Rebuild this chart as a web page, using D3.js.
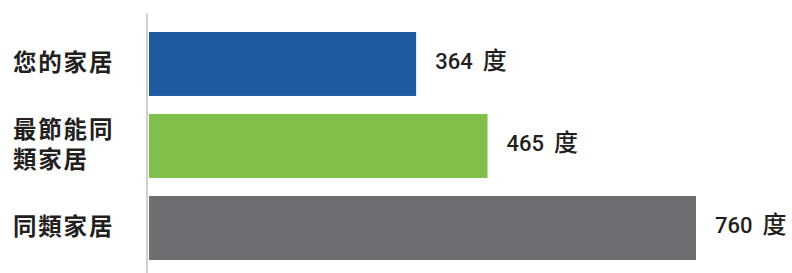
<!DOCTYPE html>
<html>
<head>
<meta charset="utf-8">
<script src="https://cdn.jsdelivr.net/npm/d3@7"></script>
<style>
  html, body { margin: 0; padding: 0; background: #fff; }
  svg { display: block; }
</style>
</head>
<body>
<svg id="chart" width="792" height="273"></svg>
<script>
const categories = [["您的家居"], ["最節能同", "類家居"], ["同類家居"]];
const values = [364, 465, 760];
const unit = "度";
const barColors = ["#1f5ba1", "#80c04a", "#6d6e71"];

const svg = d3.select("#chart");
const W = 792, H = 273;

const x = d3.scaleLinear().domain([-14, 760]).range([149, 696]);
const y = d3.scaleBand().domain(d3.range(values.length)).range([32, 260]).paddingInner(0.22).paddingOuter(0);

// axis line
svg.append("line")
  .attr("x1", 147).attr("x2", 147)
  .attr("y1", 13).attr("y2", H)
  .attr("stroke", "#d0d0d0").attr("stroke-width", 2);

// bars
svg.selectAll("rect.bar").data(values).enter().append("rect")
  .attr("class", "bar")
  .attr("x", x(-14))
  .attr("y", (d, i) => y(i))
  .attr("width", d => x(d) - x(-14))
  .attr("height", y.bandwidth())
  .attr("fill", (d, i) => barColors[i]);

// value labels
const vl = svg.selectAll("text.val").data(values).enter().append("text")
  .attr("class", "val")
  .attr("x", d => x(d) + 19)
  .attr("y", (d, i) => y(i) + y.bandwidth() / 2 + 5)
  .attr("font-family", "Roboto, 'Liberation Sans', Arial, sans-serif")
  .attr("font-size", 22)
  .attr("font-weight", 500)
  .attr("fill", "#231f20");
vl.append("tspan").text(d => d);
vl.append("tspan")
  .attr("dx", 10)
  .attr("font-family", "'Noto Sans CJK TC', sans-serif")
  .attr("font-size", 24)
  .attr("font-weight", 500)
  .text(unit);

// category labels
const lineH = 29.5;
categories.forEach((lines, i) => {
  const cy = y(i) + y.bandwidth() / 2;
  const n = lines.length;
  lines.forEach((ln, j) => {
    svg.append("text")
      .attr("font-family", "'Noto Sans CJK TC', 'Noto Sans CJK SC', sans-serif")
      .attr("font-size", 23.5)
      .attr("font-weight", 600)
      .attr("letter-spacing", 1.8)
      .attr("fill", "#231f20")
      .attr("x", 13)
      .attr("y", cy + 7 + (j - (n - 1) / 2) * lineH)
      .text(ln);
  });
});
</script>
</body>
</html>
